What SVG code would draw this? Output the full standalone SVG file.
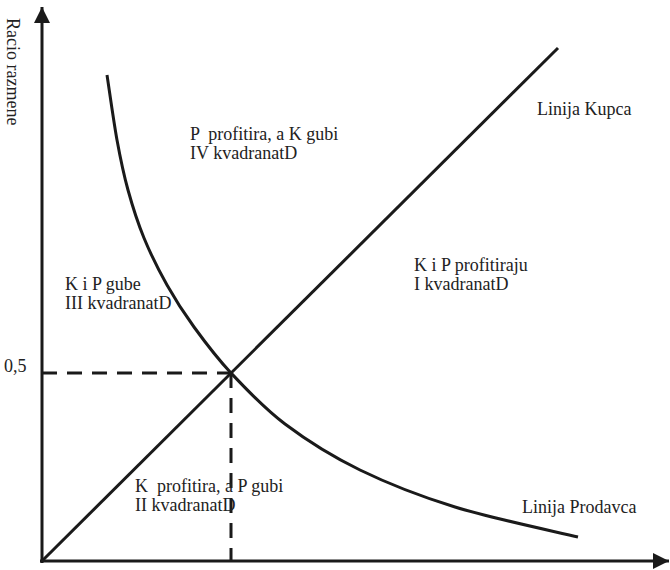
<svg xmlns="http://www.w3.org/2000/svg" width="670" height="570" viewBox="0 0 670 570">
<style>
text{font-family:"Liberation Serif","Times New Roman",serif;font-size:18px;fill:#222;white-space:pre}
.ln{fill:none;stroke:#1a1a1a;stroke-width:3;stroke-linejoin:round;stroke-linecap:butt}
.dash{fill:none;stroke:#1a1a1a;stroke-width:3;stroke-dasharray:15 10}
</style>
<defs>
<marker id="arr" viewBox="0 0 16 16" refX="16" refY="8" markerWidth="16" markerHeight="16" markerUnits="userSpaceOnUse" orient="auto">
<path d="M0,0 L16,8 L0,16 Z" fill="#1a1a1a"/>
</marker>
</defs>
<rect width="670" height="570" fill="#fff"/>
<g id="axes">
<line class="ln" x1="42" y1="563" x2="42" y2="7" marker-end="url(#arr)"/>
<line class="ln" x1="40" y1="561" x2="669" y2="561" marker-end="url(#arr)"/>
<text transform="translate(7,18) rotate(90)" font-size="19">Racio razmene</text>
<text x="4" y="372">0,5</text>
</g>
<g id="connectors">
<line class="dash" x1="42" y1="373" x2="231" y2="373"/>
<line class="dash" x1="231" y1="373" x2="231" y2="561"/>
</g>
<g id="buyer-line">
<line class="ln" x1="42" y1="561" x2="558" y2="48"/>
<text x="537" y="115">Linija Kupca</text>
</g>
<g id="seller-line">
<path class="ln" d="M107,75 C108.7,85.8 113.5,120.8 117,140 C120.5,159.2 123.5,173.7 128,190 C132.5,206.3 137.5,222.2 144,238 C150.5,253.8 158.7,270.2 167,285 C175.3,299.8 183.3,312.3 194,327 C204.7,341.7 215.8,356.8 231,373 C246.2,389.2 263.5,407.8 285,424 C306.5,440.2 331.7,456.2 360,470 C388.3,483.8 418.7,495.8 455,507 C491.3,518.2 557.5,532 578,537"/>
<text x="522" y="513">Linija Prodavca</text>
</g>
<g id="quadrant-IV">
<text x="190" y="140" xml:space="preserve">P  profitira, a K gubi</text>
<text x="190" y="159">IV kvadranatD</text>
</g>
<g id="quadrant-III">
<text x="65" y="290">K i P gube</text>
<text x="65" y="309">III kvadranatD</text>
</g>
<g id="quadrant-I">
<text x="414" y="271">K i P profitiraju</text>
<text x="414" y="290">I kvadranatD</text>
</g>
<g id="quadrant-II">
<text x="135" y="492" xml:space="preserve">K  profitira, a P gubi</text>
<text x="135" y="511">II kvadranatD</text>
</g>
</svg>
